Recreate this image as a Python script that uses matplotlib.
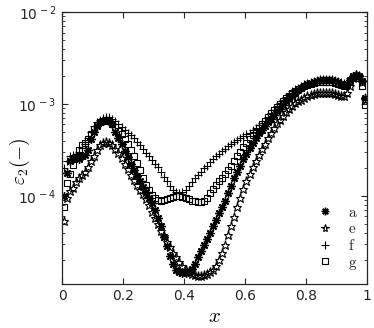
import numpy as np
import matplotlib
matplotlib.use("Agg")
import matplotlib.pyplot as plt
from matplotlib.ticker import FixedLocator, FixedFormatter, LogLocator, NullFormatter

plt.rcParams['mathtext.fontset'] = 'cm'
plt.rcParams['font.family'] = 'DejaVu Sans'

# sample positions along x
x = np.arange(100) * 0.01 + 0.005

# eps_2, one row per 0.1 in x
eps_a = [1.00e-4, 1.78e-4, 2.40e-4, 2.51e-4, 2.63e-4, 2.51e-4, 2.69e-4, 2.82e-4, 3.16e-4, 4.17e-4,
         5.01e-4, 5.75e-4, 6.31e-4, 6.61e-4, 6.76e-4, 6.61e-4, 6.03e-4, 5.01e-4, 4.27e-4, 3.63e-4,
         3.09e-4, 2.63e-4, 2.24e-4, 1.91e-4, 1.66e-4, 1.45e-4, 1.26e-4, 1.10e-4, 9.55e-5, 8.32e-5,
         7.08e-5, 5.75e-5, 4.68e-5, 3.55e-5, 2.82e-5, 2.24e-5, 1.82e-5, 1.58e-5, 1.48e-5, 1.45e-5,
         1.45e-5, 1.51e-5, 1.62e-5, 1.82e-5, 2.14e-5, 2.51e-5, 2.95e-5, 3.39e-5, 3.98e-5, 4.68e-5,
         5.50e-5, 6.46e-5, 7.59e-5, 8.91e-5, 1.07e-4, 1.29e-4, 1.55e-4, 1.82e-4, 2.14e-4, 2.51e-4,
         2.88e-4, 3.31e-4, 3.80e-4, 4.27e-4, 4.79e-4, 5.25e-4, 5.75e-4, 6.31e-4, 6.92e-4, 7.59e-4,
         8.32e-4, 8.91e-4, 9.77e-4, 1.07e-3, 1.15e-3, 1.23e-3, 1.32e-3, 1.41e-3, 1.51e-3, 1.58e-3,
         1.66e-3, 1.70e-3, 1.74e-3, 1.78e-3, 1.82e-3, 1.82e-3, 1.82e-3, 1.82e-3, 1.82e-3, 1.78e-3,
         1.74e-3, 1.66e-3, 1.62e-3, 1.66e-3, 1.82e-3, 2.00e-3, 2.09e-3, 2.00e-3, 1.78e-3, 1.15e-3]

eps_e = [5.37e-5, 9.55e-5, 1.12e-4, 1.23e-4, 1.41e-4, 1.58e-4, 1.70e-4, 1.82e-4, 2.04e-4, 2.40e-4,
         2.75e-4, 3.16e-4, 3.55e-4, 3.80e-4, 3.89e-4, 3.80e-4, 3.55e-4, 3.24e-4, 2.95e-4, 2.57e-4,
         2.24e-4, 1.95e-4, 1.70e-4, 1.48e-4, 1.32e-4, 1.17e-4, 1.05e-4, 9.33e-5, 7.94e-5, 6.76e-5,
         5.75e-5, 4.90e-5, 4.17e-5, 3.63e-5, 3.16e-5, 2.75e-5, 2.40e-5, 2.14e-5, 1.91e-5, 1.74e-5,
         1.58e-5, 1.48e-5, 1.41e-5, 1.38e-5, 1.35e-5, 1.35e-5, 1.38e-5, 1.41e-5, 1.48e-5, 1.58e-5,
         1.74e-5, 2.00e-5, 2.40e-5, 2.95e-5, 3.72e-5, 4.68e-5, 5.89e-5, 7.59e-5, 9.55e-5, 1.20e-4,
         1.45e-4, 1.74e-4, 2.04e-4, 2.40e-4, 2.82e-4, 3.24e-4, 3.72e-4, 4.27e-4, 4.90e-4, 5.50e-4,
         6.17e-4, 6.76e-4, 7.41e-4, 8.13e-4, 8.91e-4, 9.55e-4, 1.02e-3, 1.07e-3, 1.12e-3, 1.17e-3,
         1.23e-3, 1.26e-3, 1.29e-3, 1.32e-3, 1.32e-3, 1.32e-3, 1.32e-3, 1.32e-3, 1.32e-3, 1.29e-3,
         1.26e-3, 1.23e-3, 1.23e-3, 1.32e-3, 1.58e-3, 1.91e-3, 2.09e-3, 2.00e-3, 1.74e-3, 1.12e-3]

eps_f = [2.00e-4, 2.40e-4, 2.69e-4, 2.82e-4, 2.88e-4, 3.02e-4, 3.31e-4, 3.72e-4, 4.27e-4, 5.01e-4,
         5.75e-4, 6.31e-4, 6.76e-4, 7.08e-4, 7.24e-4, 7.24e-4, 6.92e-4, 6.46e-4, 6.03e-4, 5.62e-4,
         5.25e-4, 4.90e-4, 4.57e-4, 4.27e-4, 3.89e-4, 3.55e-4, 3.24e-4, 2.95e-4, 2.69e-4, 2.45e-4,
         2.24e-4, 2.04e-4, 1.82e-4, 1.62e-4, 1.45e-4, 1.29e-4, 1.17e-4, 1.10e-4, 1.07e-4, 1.10e-4,
         1.17e-4, 1.29e-4, 1.41e-4, 1.55e-4, 1.70e-4, 1.82e-4, 2.00e-4, 2.14e-4, 2.34e-4, 2.51e-4,
         2.69e-4, 2.88e-4, 3.09e-4, 3.24e-4, 3.47e-4, 3.72e-4, 3.89e-4, 4.07e-4, 4.27e-4, 4.47e-4,
         4.68e-4, 4.90e-4, 5.25e-4, 5.50e-4, 5.89e-4, 6.17e-4, 6.61e-4, 7.24e-4, 7.94e-4, 8.71e-4,
         9.55e-4, 1.02e-3, 1.12e-3, 1.20e-3, 1.29e-3, 1.38e-3, 1.45e-3, 1.51e-3, 1.58e-3, 1.66e-3,
         1.70e-3, 1.74e-3, 1.78e-3, 1.82e-3, 1.86e-3, 1.86e-3, 1.86e-3, 1.86e-3, 1.86e-3, 1.82e-3,
         1.78e-3, 1.74e-3, 1.70e-3, 1.74e-3, 1.91e-3, 2.04e-3, 2.14e-3, 2.04e-3, 1.82e-3, 1.20e-3]

eps_g = [7.59e-5, 1.38e-4, 1.74e-4, 2.19e-4, 2.63e-4, 3.16e-4, 3.55e-4, 3.80e-4, 4.17e-4, 4.68e-4,
         5.37e-4, 5.89e-4, 6.31e-4, 6.61e-4, 6.61e-4, 6.46e-4, 6.03e-4, 5.62e-4, 5.13e-4, 4.68e-4,
         4.17e-4, 3.63e-4, 3.16e-4, 2.69e-4, 2.29e-4, 1.91e-4, 1.58e-4, 1.32e-4, 1.15e-4, 1.02e-4,
         9.55e-5, 9.12e-5, 8.91e-5, 9.12e-5, 9.33e-5, 9.55e-5, 9.77e-5, 1.00e-4, 1.00e-4, 9.77e-5,
         9.55e-5, 9.33e-5, 8.91e-5, 8.71e-5, 8.51e-5, 8.51e-5, 8.91e-5, 9.55e-5, 1.07e-4, 1.20e-4,
         1.32e-4, 1.45e-4, 1.58e-4, 1.74e-4, 1.91e-4, 2.14e-4, 2.40e-4, 2.69e-4, 3.02e-4, 3.39e-4,
         3.80e-4, 4.17e-4, 4.57e-4, 5.01e-4, 5.50e-4, 6.03e-4, 6.61e-4, 7.24e-4, 7.94e-4, 8.71e-4,
         9.33e-4, 1.00e-3, 1.07e-3, 1.15e-3, 1.23e-3, 1.32e-3, 1.38e-3, 1.45e-3, 1.51e-3, 1.58e-3,
         1.62e-3, 1.66e-3, 1.70e-3, 1.74e-3, 1.74e-3, 1.74e-3, 1.74e-3, 1.74e-3, 1.74e-3, 1.70e-3,
         1.66e-3, 1.62e-3, 1.58e-3, 1.62e-3, 1.78e-3, 1.95e-3, 2.04e-3, 1.91e-3, 1.58e-3, 9.77e-4]

labels = ['a', 'e', 'f', 'g']
x_ticks = [0, 0.2, 0.4, 0.6, 0.8, 1]
x_ticklabels = ['0', '0.2', '0.4', '0.6', '0.8', '1']
y_ticks = [1e-4, 1e-3, 1e-2]
y_ticklabels = [r'$\mathregular{10^{\,-4}}$', r'$\mathregular{10^{\,-3}}$', r'$\mathregular{10^{\,-2}}$']

fig = plt.figure(figsize=(3.74, 3.28), dpi=100)
ax = fig.add_axes([0.166, 0.134, 0.815, 0.829])

ax.plot(x, eps_a, linestyle='none', marker=(8, 2, 0), ms=6, mec='k', mew=1.0, color='k', label=labels[0])
ax.plot(x, eps_e, linestyle='none', marker='*', ms=6.5, mfc='none', mec='k', mew=0.8, label=labels[1])
ax.plot(x, eps_f, linestyle='none', marker='+', ms=6, mec='k', mew=0.8, label=labels[2])
ax.plot(x, eps_g, linestyle='none', marker='s', ms=4.5, mfc='none', mec='k', mew=0.8, label=labels[3])

ax.set_yscale('log')
ax.set_xlim(0, 1)
ax.set_ylim(1.1e-5, 1e-2)

ax.xaxis.set_major_locator(FixedLocator(x_ticks))
ax.xaxis.set_major_formatter(FixedFormatter(x_ticklabels))
ax.yaxis.set_major_locator(FixedLocator(y_ticks))
ax.yaxis.set_major_formatter(FixedFormatter(y_ticklabels))
ax.yaxis.set_minor_locator(LogLocator(base=10, subs=np.arange(2, 10)))
ax.yaxis.set_minor_formatter(NullFormatter())

ax.tick_params(which='both', direction='in', top=True, right=True, colors='#262626', labelsize=10)
ax.tick_params(which='major', length=4, width=0.8)
ax.tick_params(which='minor', length=2.2, width=0.6)
ax.tick_params(axis='y', pad=4)
for s in ax.spines.values():
    s.set_color('#262626')
    s.set_linewidth(0.9)

ax.set_xlabel(r'$x$', fontsize=15, labelpad=2)
ax.set_ylabel(r'$\varepsilon_2(-)$', fontsize=14)
ax.yaxis.set_label_coords(-0.10, 0.45)

leg = ax.legend(loc='lower right', bbox_to_anchor=(1.015, -0.005), frameon=False,
                prop={'family': 'serif', 'size': 11}, handlelength=1.0, handletextpad=1.0,
                labelspacing=0.15, markerscale=0.9)
for t in leg.get_texts():
    t.set_text(r'$\mathrm{' + t.get_text() + '}$')
    t.set_color('#262626')

fig.savefig('out.png', dpi=100)
